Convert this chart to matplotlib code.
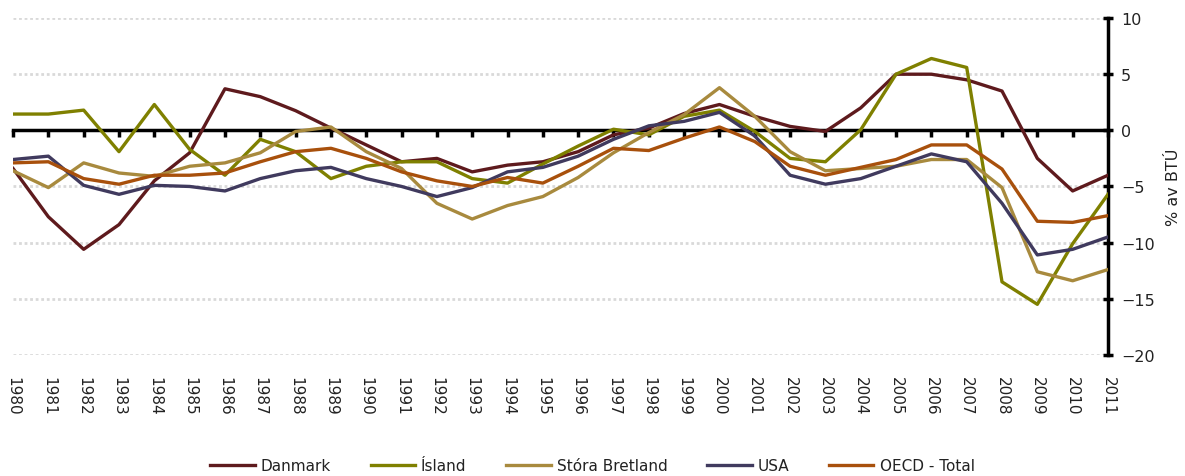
import numpy as np
import matplotlib
matplotlib.use('Agg')
import matplotlib.pyplot as plt

# data (% av BTU)
years = list(range(1980, 2012))

danmark = [-3.4, -7.7, -10.6, -8.4, -4.5, -2.0, 3.7, 3.0, 1.75, 0.2, -1.3,
           -2.8, -2.5, -3.7, -3.1, -2.8, -1.9, -0.4, 0.2, 1.5, 2.3, 1.25,
           0.35, -0.1, 2.0, 5.0, 5.0, 4.5, 3.5, -2.5, -5.4, -4.0]
island = [1.45, 1.45, 1.8, -1.9, 2.3, -1.7, -4.0, -0.8, -1.9, -4.3, -3.2,
          -2.8, -2.8, -4.3, -4.7, -3.0, -1.4, 0.1, -0.4, 1.25, 1.8, -0.1,
          -2.5, -2.8, 0.05, 5.0, 6.4, 5.6, -13.5, -15.5, -10.1, -5.7]
bretland = [-3.6, -5.1, -2.9, -3.8, -4.1, -3.2, -2.9, -2.0, -0.1, 0.3, -1.9,
            -3.4, -6.5, -7.9, -6.7, -5.9, -4.2, -2.0, -0.2, 1.4, 3.8, 1.25,
            -1.9, -3.6, -3.4, -3.2, -2.6, -2.6, -5.1, -12.6, -13.4, -12.4]
usa = [-2.6, -2.3, -4.9, -5.7, -4.9, -5.0, -5.4, -4.3, -3.6, -3.3, -4.3,
       -5.0, -5.9, -5.1, -3.7, -3.3, -2.3, -0.8, 0.4, 0.8, 1.6, -0.5,
       -4.0, -4.8, -4.3, -3.2, -2.1, -2.8, -6.5, -11.1, -10.6, -9.5]
oecd = [-2.9, -2.8, -4.3, -4.8, -4.0, -4.0, -3.8, -2.8, -1.9, -1.6, -2.5,
        -3.7, -4.5, -5.0, -4.2, -4.7, -3.2, -1.6, -1.8, -0.7, 0.3, -1.0,
        -3.2, -4.0, -3.3, -2.6, -1.3, -1.3, -3.45, -8.1, -8.2, -7.6]

series = [
    ('Danmark', danmark, '#5e1a1d'),
    ('Ísland', island, '#7f8000'),
    ('Stóra Bretland', bretland, '#a88a3e'),
    ('USA', usa, '#403a5e'),
    ('OECD - Total', oecd, '#a8500c'),
]

txt = '#222222'

fig = plt.figure(figsize=(11.85, 4.77), dpi=100)
ax = fig.add_axes([0.011, 0.254, 0.924, 0.706])

# dotted grid
for g in [-20, -15, -10, -5, 5, 10]:
    ax.axhline(g, color='#d9d9d9', lw=2.0, ls=(0, (1, 1)), zorder=1)

for name, vals, col in series:
    ax.plot(years, vals, color=col, lw=2.4, label=name, zorder=3)

ax.set_xlim(1980, 2011)
ax.set_ylim(-20, 10)

# right y axis
ax.spines['left'].set_visible(False)
ax.spines['top'].set_visible(False)
ax.spines['right'].set_linewidth(2.5)
ax.yaxis.tick_right()
ax.yaxis.set_label_position('right')
ax.set_yticks(np.arange(-20, 11, 5))
ax.tick_params(axis='y', direction='inout', length=7, width=2.5, labelsize=11.5,
               pad=6, labelcolor=txt)
ax.set_ylabel('% av BTÚ', fontsize=11.5, labelpad=8, color=txt)

# x axis line sits on zero
ax.spines['bottom'].set_position(('data', 0))
ax.spines['bottom'].set_linewidth(2.5)
ax.spines['bottom'].set_zorder(2)
ax.set_xticks(years)
ax.tick_params(axis='x', direction='out', length=5, width=2.5, labelbottom=False)

# year labels below the plot
sec = ax.secondary_xaxis('bottom')
sec.set_xticks(years)
sec.set_xticklabels([str(y) for y in years], rotation=270, fontsize=11, color=txt)
sec.tick_params(length=0, pad=15)
sec.spines['bottom'].set_visible(False)

fig.legend(loc='center', bbox_to_anchor=(0.5, 0.022), ncol=5, frameon=False,
           fontsize=11, handlelength=2.9, columnspacing=2.6, handletextpad=0.4,
           labelcolor=txt)

fig.savefig('out.png', dpi=100)
